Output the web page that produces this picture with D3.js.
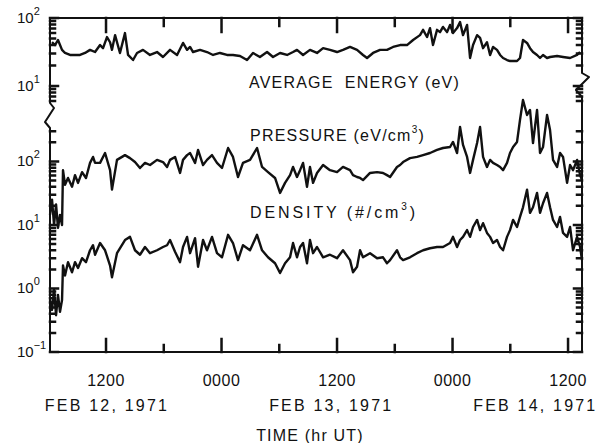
<!DOCTYPE html>
<html>
<head>
<meta charset="utf-8">
<script src="https://cdn.jsdelivr.net/npm/d3@7/dist/d3.min.js"></script>
<style>
  html, body { margin: 0; padding: 0; background: #fff; }
  svg { display: block; }
  text { font-family: "Liberation Sans", Arial, sans-serif; fill: #111; }
</style>
</head>
<body>
<svg id="chart" width="597" height="443" xmlns="http://www.w3.org/2000/svg"></svg>
<script>
// ---------------- DATA (time in hours from 0000 UT, Feb 12, 1971) ----------------
const energySeries = [
  [6.39,44],[6.70,40],[7.01,47.5],[7.43,34],[7.74,30.6],[8.26,28.6],[8.78,28.6],[9.30,28.6],[9.82,30.6],[10.34,34],
  [10.86,31.6],[11.38,40],[11.69,36],[12.10,52.5],[12.42,44],[12.62,34],[12.94,56],[13.45,30.6],[13.97,60],[14.29,28.6],
  [14.81,24.1],[15.22,30.6],[15.84,34],[16.57,28.6],[17.30,31.6],[17.92,26.7],[18.65,34],[19.38,28.6],[20.00,43],[20.42,34],
  [20.73,37.5],[21.04,31.6],[21.77,34],[22.49,31.6],[23.12,28.6],[23.84,30.6],[24.57,28.6],[25.19,28.6],[25.92,27.6],[26.65,24.1],
  [27.27,30.6],[27.99,26.7],[28.73,31.6],[29.35,26.7],[30.08,30.6],[30.81,28.6],[31.43,31.6],[31.84,34],[32.47,28.6],[33.19,34],
  [33.92,30.6],[34.55,36],[35.27,34],[36.00,31.6],[36.62,34],[37.35,37.5],[38.08,34],[38.70,28.6],[39.12,25.8],[39.74,30.6],
  [40.47,34],[41.19,34],[41.82,37.5],[42.55,40],[43.27,40],[43.90,47.5],[44.62,56],[44.94,67],[45.35,52.5],[45.66,71],
  [45.97,40],[46.39,67],[46.70,62],[47.01,74],[47.43,62],[47.74,79],[48.05,60],[48.47,71],[48.78,87],[49.09,56],
  [49.51,79],[49.82,25.8],[50.13,40],[50.55,56],[50.86,51],[51.17,36],[51.58,44],[51.90,28.6],[52.21,37.5],[52.62,34],
  [52.94,28.6],[53.25,25.8],[53.66,24.1],[53.97,23.3],[54.29,23.3],[54.70,23.3],[55.01,25.8],[55.32,47.5],[55.74,43],[56.05,36],
  [56.36,31.6],[56.78,28.6],[57.09,25.8],[57.40,28.6],[57.82,25.8],[58.13,26.7],[58.86,27.6],[59.48,26.7],[60.21,25.8],[60.94,28.6],
  [61.25,31.6]
];

const pressureSeries = [
  [6.18,14.4],[6.39,25],[6.60,10],[6.81,21],[7.01,9],[7.22,14.4],[7.43,10],[7.53,73],[7.74,43],[8.05,55],
  [8.47,40],[8.78,61],[9.09,46],[9.51,68],[9.92,55],[10.34,95],[10.65,118],[10.86,95],[11.38,95],[11.90,136],
  [12.42,73],[12.62,36],[13.14,106],[13.97,126],[14.49,113],[15.01,98],[15.53,79],[16.05,95],[16.57,88],[17.30,106],
  [17.92,98],[18.34,82],[18.65,106],[19.17,118],[19.69,66],[20.00,106],[20.42,126],[20.73,136],[21.25,95],[21.56,152],
  [22.08,88],[22.49,106],[23.01,126],[23.53,95],[24.05,79],[24.68,163],[25.19,118],[25.71,57],[26.23,95],[26.96,106],
  [27.69,163],[28.21,82],[28.83,68],[29.56,55],[30.08,32],[30.60,46],[31.12,61],[31.43,82],[31.84,57],[32.16,73],
  [32.47,95],[32.88,40],[33.19,82],[33.51,46],[33.92,66],[34.55,88],[35.27,73],[36.00,68],[36.62,82],[37.35,73],
  [37.66,61],[38.08,57],[38.39,55],[38.70,51],[39.43,66],[40.16,68],[40.78,66],[41.19,61],[41.51,57],[42.23,82],
  [42.55,88],[42.86,98],[43.58,113],[44.31,118],[44.94,126],[45.66,136],[46.39,152],[47.01,163],[47.74,169],[48.05,203],
  [48.47,136],[48.78,349],[49.09,182],[49.51,118],[49.82,66],[50.13,106],[50.55,195],[50.86,349],[51.17,118],[51.58,82],
  [51.90,106],[52.21,95],[52.62,88],[52.94,82],[53.25,73],[53.66,95],[53.97,136],[54.29,169],[54.70,203],[55.01,451],
  [55.32,930],[55.74,540],[56.05,647],[56.36,195],[56.78,647],[57.09,136],[57.40,169],[57.82,540],[58.13,313],[58.44,106],
  [58.86,82],[59.17,136],[59.48,118],[59.90,46],[60.21,88],[60.52,73],[60.94,106],[61.25,61],[61.45,51]
];

const densitySeries = [
  [6.18,0.66],[6.39,0.46],[6.60,0.95],[6.81,0.38],[7.01,0.79],[7.22,0.43],[7.43,0.66],[7.53,2.3],[7.74,1.6],[8.05,2.6],
  [8.47,1.8],[8.78,2.6],[9.09,2.1],[9.51,3.0],[9.92,2.6],[10.34,4.0],[10.65,4.8],[10.86,3.4],[11.38,5.2],[11.90,4.0],
  [12.42,2.3],[12.62,1.5],[13.14,3.6],[13.97,5.8],[14.49,6.5],[15.01,4.0],[15.53,3.4],[16.05,4.5],[16.57,3.6],[17.30,4.0],
  [17.92,4.5],[18.34,4.8],[18.65,5.8],[19.17,3.8],[19.69,2.6],[20.00,4.5],[20.42,6.5],[20.73,3.6],[21.25,6.2],[21.56,2.2],
  [22.08,5.8],[22.49,4.0],[23.01,6.5],[23.53,3.6],[24.05,3.1],[24.68,7.0],[25.19,5.2],[25.71,2.8],[26.23,4.8],[26.96,4.0],
  [27.69,7.0],[28.21,4.0],[28.83,3.1],[29.56,2.5],[30.08,1.75],[30.60,2.5],[31.12,3.1],[31.43,5.2],[31.84,3.1],[32.16,4.5],
  [32.47,5.2],[32.88,2.5],[33.19,5.8],[33.51,3.6],[33.92,4.5],[34.55,3.1],[35.27,3.4],[36.00,3.0],[36.62,4.0],[37.35,2.8],
  [37.66,1.8],[38.08,2.2],[38.39,4.0],[38.70,3.1],[39.43,3.6],[40.16,3.0],[40.78,3.1],[41.19,2.5],[41.51,2.8],[42.23,4.0],
  [42.55,3.1],[42.86,2.8],[43.58,3.1],[44.31,3.6],[44.94,4.0],[45.66,4.3],[46.39,4.5],[47.01,4.5],[47.74,5.2],[48.05,6.5],
  [48.47,4.5],[48.78,5.8],[49.09,6.5],[49.51,8.3],[49.82,6.5],[50.13,9.3],[50.55,12],[50.86,8.3],[51.17,10.7],[51.58,7.5],
  [51.90,6.5],[52.21,5.2],[52.62,5.8],[52.94,4.5],[53.25,4.0],[53.66,6.5],[53.97,8.3],[54.29,12],[54.70,9.3],[55.01,13.4],
  [55.32,19],[55.74,36],[56.05,15.5],[56.36,19],[56.78,32],[57.09,15.5],[57.40,22],[57.82,32],[58.13,19],[58.44,12],
  [58.86,9.3],[59.17,13.4],[59.48,7.5],[59.90,6.5],[60.21,9.3],[60.52,4.0],[60.94,6.5],[61.25,4.5],[61.45,2.8]
];

const timeDomain = [6.18, 61.45];
const majorTickHours = [12, 24, 36, 48, 60];
const majorTickLabels = ["1200", "0000", "1200", "0000", "1200"];
const minorTickHours = [18, 30, 42, 54];
const dateLabels = ["FEB 12, 1971", "FEB 13, 1971", "FEB 14, 1971"];
const dateLabelHours = [12.1, 35.4, 56.6];
const topPanelDomain = [Math.pow(10, 0.75), 100];
const topPanelTicks = [1, 2];          // exponents labelled
const lowPanelDomain = [0.1, Math.pow(10, 2.48)];
const lowPanelTicks = [-1, 0, 1, 2];   // exponents labelled
const seriesLabels = ["AVERAGE  ENERGY (eV)", "PRESSURE (eV/cm", "DENSITY (#/cm"];
const xAxisTitle = "TIME (hr UT)";

// ---------------- LAYOUT ----------------
const L = 50, R = 582, T = 18, B = 352;
const topPanelBottom = 103, lowPanelTop = 131;

const svg = d3.select("#chart");
const x = d3.scaleLinear().domain(timeDomain).range([L, R]);
const yTop = d3.scaleLog().domain(topPanelDomain).range([topPanelBottom, T]);
const yLow = d3.scaleLog().domain(lowPanelDomain).range([B, lowPanelTop]);

const ink = "#111";

function logTicks(scale, lo, hi) {
  const out = [];
  const d = scale.domain();
  for (let e = lo; e <= hi; e++) {
    for (let m = 1; m <= 9; m++) {
      const v = m * Math.pow(10, e);
      if (v >= d[0] * 0.999 && v <= d[1] * 1.001) out.push({ v, major: m === 1 });
    }
  }
  return out;
}

// Frame and break symbols
const frame = d3.path();
frame.moveTo(L, T); frame.lineTo(R, T);
frame.moveTo(L, B); frame.lineTo(R, B);
frame.moveTo(L, T); frame.lineTo(L, topPanelBottom);
frame.lineTo(L + 4, topPanelBottom + 5);
frame.lineTo(L - 5, topPanelBottom + 19);
frame.lineTo(L, topPanelBottom + 25);
frame.lineTo(L, B);
const rb = 73;
frame.moveTo(R, T); frame.lineTo(R, rb);
frame.lineTo(R + 7, rb + 4);
frame.lineTo(R - 6, rb + 17);
frame.lineTo(R, rb + 24);
frame.lineTo(R, B);
svg.append("path").attr("d", frame.toString()).attr("fill", "none")
  .attr("stroke", ink).attr("stroke-width", 2).attr("stroke-linejoin", "round");

// Series lines
const lineTop = d3.line().x(d => x(d[0])).y(d => yTop(d[1]));
const lineLow = d3.line().x(d => x(d[0])).y(d => yLow(d[1]));
[[energySeries, lineTop], [pressureSeries, lineLow], [densitySeries, lineLow]].forEach(([data, gen]) => {
  svg.append("path").attr("d", gen(data)).attr("fill", "none")
    .attr("stroke", ink).attr("stroke-width", 2.4).attr("stroke-linejoin", "round");
});

// Ticks on all four sides, drawn on top
const tk = d3.path();
[{ scale: yTop, list: logTicks(yTop, 0, 2) }, { scale: yLow, list: logTicks(yLow, -1, 2) }]
  .forEach(g => {
    g.list.forEach(t => {
      const yy = g.scale(t.v);
      const len = t.major ? 8 : 5;
      tk.moveTo(L, yy); tk.lineTo(L + len, yy);
      tk.moveTo(R, yy); tk.lineTo(R - len, yy);
    });
  });
majorTickHours.forEach(h => {
  tk.moveTo(x(h), T); tk.lineTo(x(h), T + 14);
  tk.moveTo(x(h), B); tk.lineTo(x(h), B - 13);
});
minorTickHours.forEach(h => {
  tk.moveTo(x(h), T); tk.lineTo(x(h), T + 8);
  tk.moveTo(x(h), B); tk.lineTo(x(h), B - 7);
});
svg.append("path").attr("d", tk.toString()).attr("fill", "none")
  .attr("stroke", ink).attr("stroke-width", 2.5).attr("stroke-linecap", "square");

// width fitter: adjust letter-spacing so a label spans a given width
function fitWidth(sel, target) {
  const node = sel.node();
  const n = node.textContent.length;
  const w = node.getComputedTextLength();
  const cur = parseFloat(sel.attr("letter-spacing") || 0);
  sel.attr("letter-spacing", cur + (target - w) / n);
}

// Time tick labels
majorTickHours.forEach((h, i) => {
  svg.append("text").attr("x", x(h)).attr("y", 386).attr("text-anchor", "middle")
    .attr("font-size", 16).attr("letter-spacing", 0.5).text(majorTickLabels[i]);
});
dateLabels.forEach((s, i) => {
  svg.append("text").attr("x", x(dateLabelHours[i])).attr("y", 411).attr("text-anchor", "middle")
    .attr("font-size", 16).attr("letter-spacing", 2.2).text(s);
});
svg.append("text").attr("x", 310).attr("y", 441).attr("text-anchor", "middle")
  .attr("font-size", 16).attr("letter-spacing", 1.2).text(xAxisTitle);

// Y labels (10^n)
function powLabel(yy, exp) {
  const t = svg.append("text").attr("x", 17).attr("y", yy + 5).attr("font-size", 15);
  t.append("tspan").text("10");
  t.append("tspan").attr("font-size", 11).attr("dy", -8).text(String(exp).replace("-", "\u2212"));
}
topPanelTicks.forEach(e => powLabel(yTop(Math.pow(10, e)), e));
lowPanelTicks.forEach(e => powLabel(yLow(Math.pow(10, e)), e));

// Series labels
const labelPos = [[249, 88], [250, 141], [250, 218]];
const labelWidths = [211, 175, 168];
seriesLabels.forEach((s, i) => {
  const t = svg.append("text").attr("x", labelPos[i][0]).attr("y", labelPos[i][1])
    .attr("font-size", 16).attr("letter-spacing", 1.4).style("white-space", "pre");
  t.append("tspan").text(s);
  if (i > 0) {
    t.append("tspan").attr("font-size", 10).attr("dy", -8).text("3");
    t.append("tspan").attr("dy", 8).text(")");
  }
  fitWidth(t, labelWidths[i]);
});
</script>
</body>
</html>
